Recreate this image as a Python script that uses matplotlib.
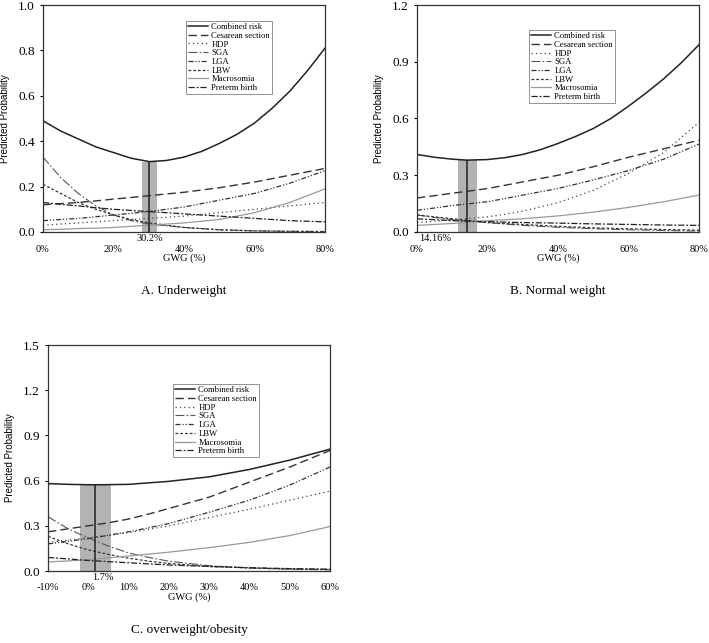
import numpy as np
import matplotlib
matplotlib.use("Agg")
import matplotlib.pyplot as plt
from matplotlib.ticker import FuncFormatter

# ------------------------------------------------------------------
# Data
# ------------------------------------------------------------------
outcomes = ["Combined risk", "Cesarean section", "HDP", "SGA", "LGA", "LBW",
            "Macrosomia", "Preterm birth"]

# A. Underweight
x_a = [0, 5, 10, 15, 20, 25, 30, 40, 50, 60, 70, 80]
x_comb_a = [0, 5, 10, 15, 20, 25, 30.2, 35, 40, 45, 50, 55, 60, 65, 70, 75, 80]
combined_a = [0.49, 0.445, 0.41, 0.375, 0.35, 0.325, 0.31, 0.315, 0.33, 0.355,
              0.39, 0.43, 0.48, 0.545, 0.62, 0.71, 0.81]
cesarean_a = [0.12, 0.125, 0.13, 0.137, 0.145, 0.152, 0.16, 0.175, 0.195, 0.22, 0.25, 0.28]
hdp_a = [0.03, 0.035, 0.04, 0.045, 0.05, 0.055, 0.06, 0.07, 0.085, 0.10, 0.115, 0.13]
sga_a = [0.33, 0.24, 0.17, 0.115, 0.075, 0.05, 0.035, 0.02, 0.01, 0.005, 0.003, 0.002]
lga_a = [0.05, 0.055, 0.06, 0.067, 0.075, 0.082, 0.09, 0.11, 0.14, 0.17, 0.215, 0.27]
lbw_a = [0.21, 0.17, 0.13, 0.10, 0.075, 0.055, 0.04, 0.02, 0.01, 0.005, 0.003, 0.002]
macro_a = [0.01, 0.012, 0.015, 0.017, 0.02, 0.025, 0.03, 0.04, 0.055, 0.085, 0.13, 0.19]
preterm_a = [0.13, 0.122, 0.115, 0.107, 0.10, 0.095, 0.09, 0.08, 0.07, 0.06, 0.05, 0.045]
opt_a, ci_a = 30.2, (28.0, 32.3)

# B. Normal weight
x_b = [0, 5, 10, 15, 20, 25, 30, 40, 50, 60, 70, 80]
x_comb_b = [0, 5, 10, 14.16, 20, 25, 30, 35, 40, 45, 50, 55, 60, 65, 70, 75, 80]
combined_b = [0.41, 0.395, 0.385, 0.38, 0.383, 0.393, 0.41, 0.435, 0.468, 0.505,
              0.547, 0.60, 0.665, 0.735, 0.81, 0.895, 0.99]
cesarean_b = [0.18, 0.192, 0.205, 0.217, 0.23, 0.247, 0.265, 0.30, 0.345, 0.395, 0.44, 0.485]
hdp_b = [0.05, 0.057, 0.065, 0.072, 0.08, 0.094, 0.11, 0.155, 0.22, 0.31, 0.42, 0.58]
sga_b = [0.09, 0.077, 0.065, 0.057, 0.05, 0.042, 0.035, 0.025, 0.017, 0.012, 0.008, 0.005]
lga_b = [0.115, 0.127, 0.14, 0.15, 0.16, 0.177, 0.195, 0.23, 0.275, 0.325, 0.385, 0.465]
lbw_b = [0.09, 0.08, 0.07, 0.06, 0.05, 0.045, 0.04, 0.03, 0.022, 0.017, 0.013, 0.01]
macro_b = [0.035, 0.04, 0.045, 0.052, 0.06, 0.065, 0.07, 0.085, 0.105, 0.13, 0.16, 0.195]
preterm_b = [0.07, 0.065, 0.06, 0.057, 0.055, 0.052, 0.05, 0.047, 0.043, 0.04, 0.037, 0.035]
opt_b, ci_b = 14.16, (11.6, 16.9)

# C. Overweight/obesity
x_c = [-10, -5, 0, 5, 10, 15, 20, 30, 40, 50, 60]
x_comb_c = [-10, -5, 1.7, 10, 20, 30, 40, 50, 60]
combined_c = [0.58, 0.575, 0.572, 0.575, 0.595, 0.625, 0.674, 0.736, 0.809]
cesarean_c = [0.26, 0.28, 0.30, 0.32, 0.345, 0.378, 0.415, 0.49, 0.59, 0.69, 0.80]
hdp_c = [0.19, 0.205, 0.22, 0.237, 0.255, 0.277, 0.30, 0.355, 0.41, 0.47, 0.53]
sga_c = [0.36, 0.28, 0.22, 0.165, 0.12, 0.09, 0.065, 0.035, 0.02, 0.012, 0.008]
lga_c = [0.18, 0.197, 0.215, 0.237, 0.26, 0.287, 0.315, 0.39, 0.47, 0.57, 0.69]
lbw_c = [0.23, 0.18, 0.14, 0.11, 0.085, 0.065, 0.05, 0.03, 0.02, 0.013, 0.01]
macro_c = [0.06, 0.067, 0.075, 0.087, 0.10, 0.112, 0.125, 0.155, 0.19, 0.235, 0.295]
preterm_c = [0.09, 0.08, 0.07, 0.062, 0.055, 0.047, 0.04, 0.03, 0.022, 0.016, 0.012]
opt_c, ci_c = 1.7, (-2.1, 5.6)

# ------------------------------------------------------------------
# Styles
# ------------------------------------------------------------------
styles = {
    "Combined risk": dict(color="#222222", lw=1.1, ls="-"),
    "Cesarean section": dict(color="#333333", lw=1.0, ls=(0, (6, 3))),
    "HDP": dict(color="#444444", lw=0.9, ls=(0, (1, 2.5))),
    "SGA": dict(color="#555555", lw=0.8, ls=(0, (8, 2, 1.5, 2))),
    "LGA": dict(color="#333333", lw=0.9, ls=(0, (4, 1.5, 1, 1.5, 1, 1.5))),
    "LBW": dict(color="#333333", lw=0.9, ls=(0, (2.2, 1.6))),
    "Macrosomia": dict(color="#999999", lw=0.9, ls="-"),
    "Preterm birth": dict(color="#222222", lw=0.9, ls=(0, (5, 1.5, 1.5, 1.5))),
}

SERIF = "Liberation Serif"
W, H = 709, 643


def pct(v, pos):
    return f"{v:.0f}%"


def draw_panel(ax, x, x_comb, series, opt, ci, xlim, xticks, ylim, yticks,
               opt_label, opt_label_x, legend_box, title):
    ax.axvspan(ci[0], ci[1], ymax=min(series[0]) / ylim[1], color="#b3b3b3",
               lw=0, zorder=1)
    ax.vlines(opt, 0, min(series[0]), color="#222222", lw=1.1, zorder=3)
    for name, y in zip(outcomes, series):
        xs = x_comb if name == "Combined risk" else x
        ax.plot(xs, y, label=name, zorder=2, **styles[name])

    ax.set_xlim(*xlim)
    ax.set_ylim(*ylim)
    ax.set_xticks(xticks)
    ax.set_yticks(yticks)
    ax.xaxis.set_major_formatter(FuncFormatter(pct))
    ax.yaxis.set_major_formatter(FuncFormatter(lambda v, p: f"{v:.1f}"))
    ax.tick_params(axis="x", length=0, pad=9, labelsize=7.5)
    ax.tick_params(axis="y", length=2.5, direction="out", labelsize=9.5)
    for lab in ax.get_xticklabels() + ax.get_yticklabels():
        lab.set_fontfamily(SERIF)
    for sp in ax.spines.values():
        sp.set_linewidth(0.9)
        sp.set_color("#333333")

    ax.set_xlabel("GWG (%)", fontsize=7.5, family=SERIF, labelpad=0)
    ax.set_ylabel("Predicted Probability", fontsize=7,
                  family=["Liberation Sans Narrow", "Liberation Sans"])
    ax.yaxis.set_label_coords(-0.118, 0.5)
    ax.text(opt_label_x, -0.03, opt_label, transform=ax.get_xaxis_transform(),
            ha="center", va="center", fontsize=7.5, family=SERIF)

    leg = ax.legend(loc="upper left", bbox_to_anchor=legend_box, frameon=True,
                    fancybox=False, prop={"family": SERIF, "size": 6.2},
                    handlelength=2.3, handletextpad=0.4, labelspacing=0.08,
                    borderpad=0.25, borderaxespad=0)
    leg.get_frame().set_edgecolor("#777777")
    leg.get_frame().set_linewidth(0.7)

    ax.set_title(title, y=-0.31, fontsize=9.5, family=SERIF)


fig = plt.figure(figsize=(W / 100, H / 100), dpi=100)

ax_a = fig.add_axes([43 / W, 1 - 232 / H, 282 / W, 227 / H])
draw_panel(ax_a, x_a, x_comb_a,
           [combined_a, cesarean_a, hdp_a, sga_a, lga_a, lbw_a, macro_a, preterm_a],
           opt_a, ci_a, (0, 80), [0, 20, 40, 60, 80], (0, 1.0),
           [0, 0.2, 0.4, 0.6, 0.8, 1.0], "30.2%", 30.2, (0.507, 0.93),
           "A. Underweight")

ax_b = fig.add_axes([417 / W, 1 - 232 / H, 282 / W, 227 / H])
draw_panel(ax_b, x_b, x_comb_b,
           [combined_b, cesarean_b, hdp_b, sga_b, lga_b, lbw_b, macro_b, preterm_b],
           opt_b, ci_b, (0, 80), [0, 20, 40, 60, 80], (0, 1.2),
           [0, 0.3, 0.6, 0.9, 1.2], "14.16%", 5.2, (0.397, 0.89),
           "B. Normal weight")

ax_c = fig.add_axes([48 / W, 1 - 571 / H, 282 / W, 226 / H])
draw_panel(ax_c, x_c, x_comb_c,
           [combined_c, cesarean_c, hdp_c, sga_c, lga_c, lbw_c, macro_c, preterm_c],
           opt_c, ci_c, (-10, 60), [-10, 0, 10, 20, 30, 40, 50, 60], (0, 1.5),
           [0, 0.3, 0.6, 0.9, 1.2, 1.5], "1.7%", 3.7, (0.443, 0.827),
           "C. overweight/obesity")

fig.savefig("out.png", dpi=100)
